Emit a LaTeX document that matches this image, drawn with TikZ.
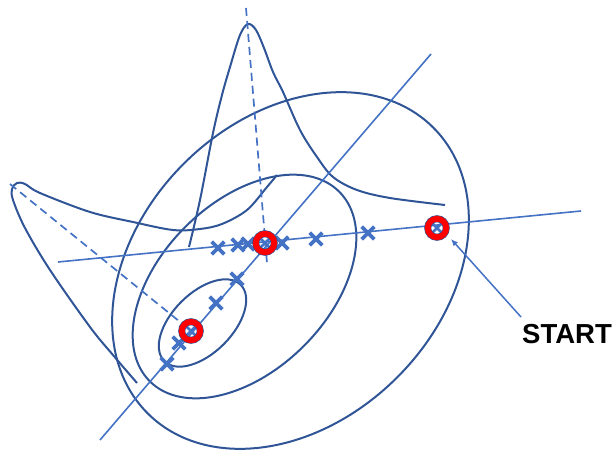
\documentclass[tikz,border=0pt]{standalone}
\usepackage{fontspec}
\setmainfont{Liberation Sans}
\usetikzlibrary{shapes.misc,arrows.meta}
\definecolor{ellc}{HTML}{2F5597}
\definecolor{linec}{HTML}{4472C4}
\begin{document}
\begin{tikzpicture}[x=1pt,y=-1pt,
  contour/.style={draw=ellc,line width=2pt},
  axisline/.style={draw=linec,line width=1.6pt},
  slice/.style={draw=linec,line width=1.7pt,dash pattern=on 8pt off 5pt},
  profile/.style={draw=ellc,line width=2pt},
  xmark/.style={cross out,draw=linec,line width=3.6pt,minimum size=9pt,inner sep=0pt},
  ximark/.style={cross out,draw=linec,line width=2.6pt,minimum size=7pt,inner sep=0pt},
  ring/.style={circle,draw=ellc,line width=0.6pt,double=red,double distance=5.8pt,minimum size=18.5pt,inner sep=0pt},
  label/.style={font=\bfseries\fontsize{27.5}{27.5}\selectfont,inner sep=0pt},
  pointer/.style={draw=linec,line width=1.5pt,-{Latex[length=7pt,width=6pt]}}
]
\useasboundingbox (0,0) rectangle (613,452);

% contour ellipses
\draw[contour] (290.5,270.5) [rotate around={45:(290.5,270.5)}] ellipse [x radius=202, y radius=151];
\draw[contour] (244.5,286.5) [rotate around={45:(244.5,286.5)}] ellipse [x radius=134, y radius=84];
\draw[contour] (202.5,323) [rotate around={45:(202.5,323)}] ellipse [x radius=54, y radius=30];

% 1D profiles
\draw[profile] plot[smooth,tension=0.55] coordinates {(189,247) (200,200) (213,133) (222,95) (230,67) (240,35) (248,24) (256,30) (264,48) (273,72) (283,92) (300,130) (317,157) (333,177) (357,190) (390,198) (445,205)};
\draw[profile] plot[smooth,tension=0.55] coordinates {(137,383) (113,355) (90,327) (50,270) (25,228) (13,200) (12,189) (17,183) (25,184) (40,193) (90,212) (133,222) (173,230) (200,229) (222,224) (247,210) (267,187) (277,175)};

% search lines
\coordinate (hA) at (58,262);
\coordinate (hB) at (581,211);
\coordinate (dA) at (100,440);
\coordinate (dB) at (431,54);
\draw[axisline] (hA) -- (hB);
\draw[axisline] (dA) -- (dB);

% slice axes (dashed)
\coordinate (sTop) at (246,8);
\coordinate (sTopEnd) at (267,263);
\coordinate (sLeft) at (10,184);
\coordinate (sLeftEnd) at (190,330);
\draw[slice] (sTop) -- (sTopEnd);
\draw[slice] (sLeft) -- (sLeftEnd);

% iterates
\node[xmark] (h1) at (218,248) {};
\node[xmark] (h2) at (238,245) {};
\node[xmark] (h3) at (248,244) {};
\node[xmark] (h4) at (282,243) {};
\node[xmark] (h5) at (316,239) {};
\node[xmark] (h6) at (368,233) {};
\node[xmark] (d1) at (237,279) {};
\node[xmark] (d2) at (216,303) {};
\node[xmark] (d3) at (179,343) {};
\node[xmark] (d4) at (167,364) {};

% highlighted points
\node[ximark] (c1) at (265,243) {};
\node[ximark] (c2) at (191,331) {};
\node[ximark] (c3) at (437,228) {};
\node[ring] (r1) at (265,243) {};
\node[ring] (r2) at (191,331) {};
\node[ring] (r3) at (437,228) {};

% label
\node[label] (start) at (567,334) {START};
\coordinate (tail) at (521,317);
\coordinate (tip) at (451,239);
\draw[pointer] (tail) -- (tip);
\end{tikzpicture}
\end{document}
